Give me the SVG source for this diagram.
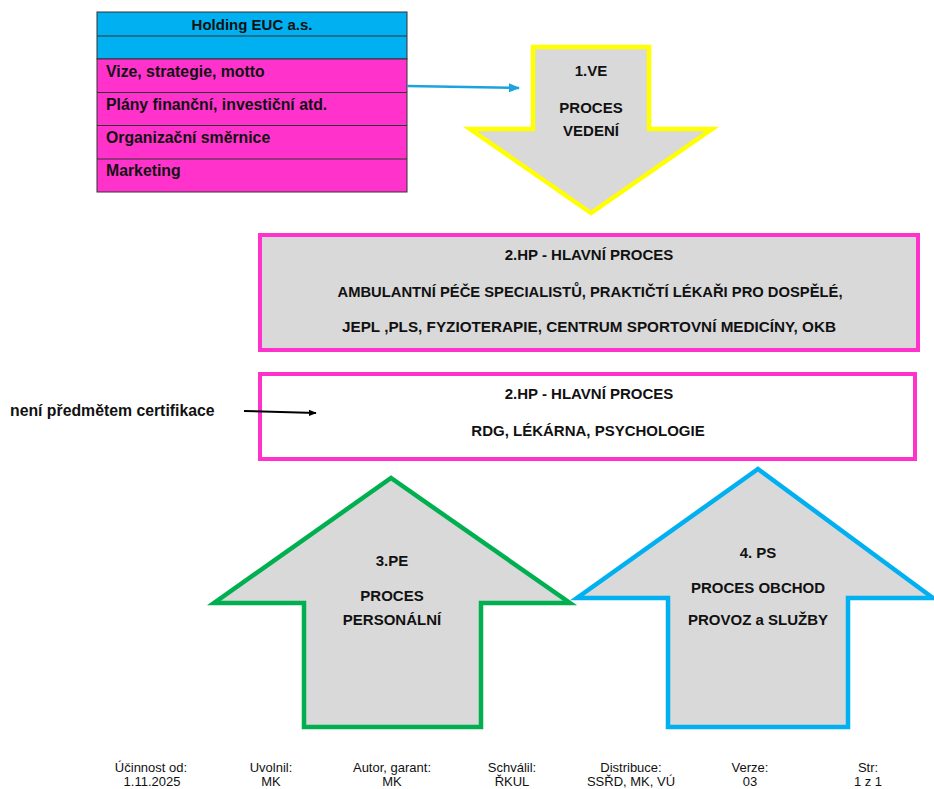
<svg xmlns="http://www.w3.org/2000/svg" width="934" height="789" viewBox="0 0 934 789">
<defs>
<style>
.b{font-family:"Liberation Sans",Arial,sans-serif;font-weight:bold;font-size:15px;fill:#111}
.l{font-size:15.8px}
.c{text-anchor:middle}
.f{font-family:"Liberation Sans",Arial,sans-serif;font-size:13px;fill:#111;text-anchor:middle}
.row{stroke:#333;stroke-width:1}
.shape{fill:#D9D9D9;stroke-width:4.5;stroke-linejoin:miter}
</style>
<marker id="ab" viewBox="0 0 10 10" refX="9" refY="5" markerWidth="4.5" markerHeight="4.5" orient="auto" markerUnits="strokeWidth"><path d="M0,1 L10,5 L0,9 z" fill="#1CA3DE"/></marker>
<marker id="ak" viewBox="0 0 10 10" refX="9" refY="5" markerWidth="4" markerHeight="4" orient="auto" markerUnits="strokeWidth"><path d="M0,1 L10,5 L0,9 z" fill="#000"/></marker>
</defs>
<rect width="934" height="789" fill="#fff"/>

<g id="holding">
<rect x="97" y="12" width="310" height="47" fill="#00B0F0" class="row"/>
<line x1="97" y1="36" x2="407" y2="36" class="row"/>
<rect x="97" y="59" width="310" height="133" fill="#FF33CC" class="row"/>
<line x1="97" y1="92.5" x2="407" y2="92.5" class="row"/>
<line x1="97" y1="125.5" x2="407" y2="125.5" class="row"/>
<line x1="97" y1="159" x2="407" y2="159" class="row"/>
<text x="252" y="30" class="b c">Holding EUC a.s.</text>
<text x="106" y="77" class="b l">Vize, strategie, motto</text>
<text x="106" y="110" class="b l">Plány finanční, investiční atd.</text>
<text x="106" y="143" class="b l">Organizační směrnice</text>
<text x="106" y="176" class="b l">Marketing</text>
</g>

<g id="ve">
<path d="M533,47 L649,47 L649,129 L712,129 L591,213 L470,129 L533,129 Z" class="shape" stroke="#FFFF00"/>
<text x="591" y="76" class="b c">1.VE</text>
<text x="591" y="113" class="b c">PROCES</text>
<text x="591" y="136" class="b c">VEDENÍ</text>
</g>

<g id="hp1">
<rect x="260" y="235" width="658" height="115" fill="#D9D9D9" stroke="#FF33CC" stroke-width="4"/>
<text x="589" y="260" class="b c">2.HP - HLAVNÍ PROCES</text>
<text x="590" y="297" class="b c" textLength="505" lengthAdjust="spacingAndGlyphs">AMBULANTNÍ PÉČE SPECIALISTŮ, PRAKTIČTÍ LÉKAŘI PRO DOSPĚLÉ,</text>
<text x="589" y="332" class="b c" textLength="494" lengthAdjust="spacingAndGlyphs">JEPL ,PLS, FYZIOTERAPIE, CENTRUM SPORTOVNÍ MEDICÍNY, OKB</text>
</g>

<g id="hp2">
<rect x="260" y="374" width="655" height="85" fill="#fff" stroke="#FF33CC" stroke-width="4"/>
<text x="589" y="399" class="b c">2.HP - HLAVNÍ PROCES</text>
<text x="588" y="436" class="b c">RDG, LÉKÁRNA, PSYCHOLOGIE</text>
</g>

<g id="note">
<text x="10" y="416" class="b l">není předmětem certifikace</text>
</g>

<g id="pe">
<path d="M304,727 L304,603 L214,603 L391,478 L570,603 L481,603 L481,727 Z" class="shape" stroke="#00B050"/>
<text x="392" y="566" class="b c">3.PE</text>
<text x="392" y="601" class="b c">PROCES</text>
<text x="392" y="625" class="b c">PERSONÁLNÍ</text>
</g>

<g id="ps">
<path d="M668,727 L668,598 L577,598 L758,469 L933,598 L848,598 L848,727 Z" class="shape" stroke="#00B0F0"/>
<text x="758" y="558" class="b c">4. PS</text>
<text x="758" y="593" class="b c">PROCES OBCHOD</text>
<text x="758" y="625" class="b c">PROVOZ a SLUŽBY</text>
</g>

<g id="connectors">
<line x1="407" y1="86" x2="519" y2="88" stroke="#1CA3DE" stroke-width="2.5" marker-end="url(#ab)"/>
<line x1="244" y1="411" x2="316" y2="413" stroke="#000" stroke-width="2" marker-end="url(#ak)"/>
</g>

<g id="footer">
<text x="151" y="772" class="f">Účinnost od:</text>
<text x="152" y="786" class="f">1.11.2025</text>
<text x="271" y="772" class="f">Uvolnil:</text>
<text x="271" y="786" class="f">MK</text>
<text x="392" y="772" class="f">Autor, garant:</text>
<text x="392" y="786" class="f">MK</text>
<text x="512" y="772" class="f">Schválil:</text>
<text x="512" y="786" class="f">ŘKUL</text>
<text x="631" y="772" class="f">Distribuce:</text>
<text x="631" y="786" class="f">SSŘD, MK, VÚ</text>
<text x="750" y="772" class="f">Verze:</text>
<text x="750" y="786" class="f">03</text>
<text x="868" y="772" class="f">Str:</text>
<text x="868" y="786" class="f">1 z 1</text>
</g>
</svg>
